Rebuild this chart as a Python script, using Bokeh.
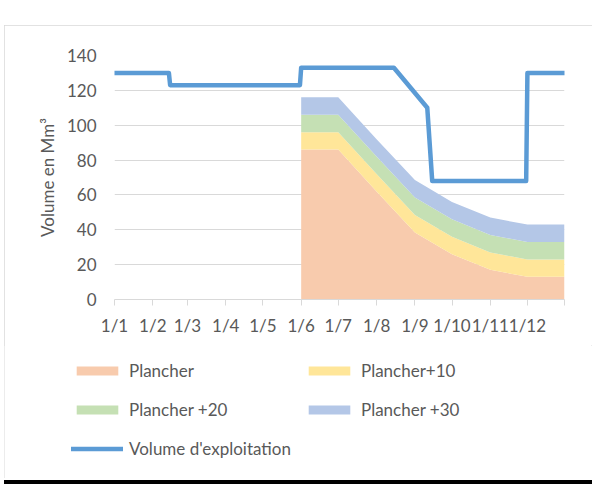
import pandas as pd
from bokeh.plotting import figure
from bokeh.layouts import column
from bokeh.models import FixedTicker, Legend, LegendItem, Range1d, ColumnDataSource
from bokeh.embed import file_html
from bokeh.resources import INLINE

# ---------------- data ----------------
tick_dates = ["2021-01-01", "2021-02-01", "2021-03-01", "2021-04-01", "2021-05-01",
              "2021-06-01", "2021-07-01", "2021-08-01", "2021-09-01", "2021-10-01",
              "2021-11-01", "2021-12-01", "2021-12-31"]
tick_labels = ["1/1", "1/2", "1/3", "1/4", "1/5", "1/6", "1/7", "1/8", "1/9",
               "1/10", "1/11", "1/12", ""]

area_dates = ["2021-06-01", "2021-07-01", "2021-08-01", "2021-09-01",
              "2021-10-01", "2021-11-01", "2021-12-01", "2021-12-31"]
plancher = [86, 86, 62, 38.5, 26, 17, 13, 13]
plancher_10 = [10, 10, 10, 10, 10, 10, 10, 10]
plancher_20 = [10, 10, 10, 10, 10, 10, 10, 10]
plancher_30 = [10, 10, 10, 10, 10, 10, 10, 10]

vol_dates = ["2021-01-01", "2021-02-14", "2021-02-15", "2021-05-31", "2021-06-01",
             "2021-08-15", "2021-09-11", "2021-09-15", "2021-11-30", "2021-12-01",
             "2021-12-31"]
vol_values = [130, 130, 123, 123, 133, 133, 110, 68, 68, 130, 130]

series_names = ["Plancher", "Plancher+10", "Plancher +20", "Plancher +30"]
series_colors = ["#F8CBAD", "#FFE699", "#C5E0B4", "#B4C7E7"]
line_name = "Volume d'exploitation"
line_color = "#5B9BD5"

FONT = "Lato"
TXT = "#595959"
GRID = "#D9D9D9"

area_src = ColumnDataSource(dict(
    date=pd.to_datetime(area_dates),
    s0=plancher, s1=plancher_10, s2=plancher_20, s3=plancher_30))
vol_src = ColumnDataSource(dict(date=pd.to_datetime(vol_dates), v=vol_values))

# ---------------- chart figure ----------------
p = figure(width=588, height=320, x_axis_type="datetime",
           output_backend="svg", toolbar_location=None,
           x_range=Range1d(pd.Timestamp("2021-01-01"), pd.Timestamp("2021-12-31")),
           y_range=Range1d(0, 140),
           min_border_left=110, min_border_right=28,
           min_border_top=30, min_border_bottom=46)
p.outline_line_color = None

p.varea_stack(["s0", "s1", "s2", "s3"], x="date", source=area_src,
              color=series_colors)
p.line("date", "v", source=vol_src, line_width=4.5, line_color=line_color,
       line_join="round", line_cap="round")

tick_ms = [float(pd.Timestamp(d).value // 10**6) for d in tick_dates]
xa = p.xaxis[0]
xa.ticker = FixedTicker(ticks=tick_ms, minor_ticks=[])
xa.major_label_overrides = {t: l for t, l in zip(tick_ms, tick_labels)}
xa.axis_line_color = GRID
xa.major_tick_line_color = GRID
xa.major_tick_out = 6
xa.major_tick_in = 0
xa.minor_tick_line_color = None
xa.major_label_standoff = 9
xa.major_label_text_font = FONT
xa.major_label_text_font_size = "17px"
xa.major_label_text_color = TXT

ya = p.yaxis[0]
ya.ticker = FixedTicker(ticks=[0, 20, 40, 60, 80, 100, 120, 140])
ya.axis_line_color = None
ya.major_tick_line_color = None
ya.minor_tick_line_color = None
ya.major_tick_out = 0
ya.major_tick_in = 0
ya.major_label_standoff = 18
ya.major_label_text_font = FONT
ya.major_label_text_font_size = "17px"
ya.major_label_text_color = TXT
ya.axis_label = "Volume en Mm³"
ya.axis_label_text_font = FONT
ya.axis_label_text_font_size = "17px"
ya.axis_label_text_font_style = "normal"
ya.axis_label_text_color = TXT
ya.axis_label_standoff = 6

p.xgrid.visible = False
p.ygrid.grid_line_color = GRID
p.ygrid.grid_line_width = 1

# ---------------- legend figure ----------------
q = figure(width=588, height=133, output_backend="svg", toolbar_location=None,
           x_axis_location=None, y_axis_location=None,
           x_range=Range1d(0, 1), y_range=Range1d(0, 1),
           min_border=0, min_border_left=0, min_border_right=0,
           min_border_top=0, min_border_bottom=0)
q.outline_line_color = None
q.xgrid.visible = False
q.ygrid.visible = False
q_areas = q.varea_stack(["s0", "s1", "s2", "s3"], x="date", source=area_src,
                        color=series_colors)
q_line = q.line("date", "v", source=vol_src, line_width=4.5, line_color=line_color,
                line_join="round", line_cap="round")

def make_legend(items, loc):
    return Legend(items=items, location=loc, orientation="vertical",
                  padding=0, margin=0, spacing=18,
                  glyph_width=52, glyph_height=11, label_height=20,
                  label_standoff=6, border_line_color=None,
                  background_fill_alpha=0,
                  label_text_font=FONT, label_text_font_size="17px",
                  label_text_color=TXT)

leg_a = make_legend([LegendItem(label=series_names[0], renderers=[q_areas[0]]),
                     LegendItem(label=series_names[2], renderers=[q_areas[2]]),
                     LegendItem(label=line_name, renderers=[q_line])], (67, 19))
leg_b = make_legend([LegendItem(label=series_names[1], renderers=[q_areas[1]]),
                     LegendItem(label=series_names[3], renderers=[q_areas[3]])], (299, 58))
q.add_layout(leg_a, "center")
q.add_layout(leg_b, "center")

layout = column(p, column(q, spacing=0), spacing=0)
layout.styles = {"position": "relative", "left": "4px", "top": "25px",
                 "outline": "1.5px solid #D9D9D9", "outline-offset": "-1px",
                 "box-shadow": "0 2px 0 0 #FFFFFF, 0 6px 0 0 #000000"}

open("out.html", "w").write(file_html(layout, INLINE))
